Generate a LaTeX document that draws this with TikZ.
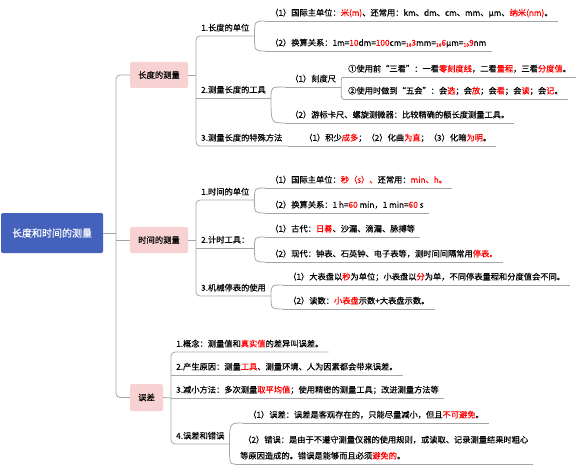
\documentclass[tikz,border=0pt]{standalone}
\usepackage{fontspec}
\newfontfamily\cjk{Noto Sans CJK SC}[FakeBold=0.3]
\usetikzlibrary{positioning}
\newcommand{\rd}[1]{\textcolor{red}{#1}}
\newcommand{\sm}[1]{\raisebox{-1pt}{\fontsize{5}{5}\selectfont #1}}

\begin{document}
\begin{tikzpicture}
    [x=1pt, y=-1pt,
    link/.style={draw=linegray, line width=0.8pt},
    ob/.style={rectangle, inner sep=1mm, minimum height=26pt, rounded corners=1.5pt, fill=topicpink, font=\cjk\fontsize{8.3}{10}\selectfont},
    leaf/.style={anchor=south west, inner xsep=5pt, inner ysep=3pt, text height=7pt, text depth=2pt, font=\cjk\fontsize{8.25}{10}\selectfont}]
    \definecolor{linegray}{RGB}{165,165,165}
    \definecolor{topicpink}{RGB}{248,210,210}
    \definecolor{rootblue}{RGB}{68,98,188}
    \useasboundingbox (0,0) rectangle (577,465);
    % main topics
    \node [ob, fill=rootblue, text=white, minimum width=102pt, minimum height=40pt, font=\cjk\fontsize{10}{12}\selectfont] (root) at (52,233) {长度和时间的测量};
    \node [ob, minimum width=58pt] (len) at (159,75) {长度的测量};
    \node [ob, minimum width=58pt] (time) at (159,240) {时间的测量};
    \node [ob, minimum width=33pt, minimum height=27pt] (err) at (146.5,397.5) {误差};
    \coordinate (trunk) at (116,233);
    % length
    \node [leaf] (lu) at (196,36) {1.长度的单位};
    \node [leaf] (lu1) at (265,21) {（1）国际主单位：\rd{米(m)}、还常用：km、dm、cm、mm、μm、\rd{纳米(nm)}。};
    \node [leaf] (lu2) at (265,51) {（2）换算关系：1m=\rd{10}dm=\rd{100}cm=\rd{\sm{10}3}mm=\rd{\sm{10}6}μm=\rd{\sm{10}9}nm};
    \node [leaf] (lt) at (196,98) {2.测量长度的工具};
    \node [leaf] (lt1) at (285,87) {（1）刻度尺};
    \node [leaf] (lt1a) at (343,77) {①使用前“三看”：一看\rd{零刻度线}，二看\rd{量程}，三看\rd{分度值}。};
    \node [leaf] (lt1b) at (343,99) {②使用时做到“五会”：会\rd{选}；会\rd{放}；会\rd{看}；会\rd{读}；会\rd{记}。};
    \node [leaf] (lt2) at (285,123) {（2）游标卡尺、螺旋测微器：比较精确的额长度测量工具。};
    \node [leaf] (ls) at (196,146) {3.测量长度的特殊方法};
    \node [leaf] (ls1) at (299,146) {（1）积少\rd{成多}；（2）化曲\rd{为直}；（3）化暗\rd{为明}。};
    % time
    \node [leaf] (tu) at (196,200) {1.时间的单位};
    \node [leaf] (tu1) at (265,188) {（1）国际主单位：\rd{秒（s）、}还常用：\rd{min、h。}};
    \node [leaf] (tu2) at (265,213) {（2）换算关系：1 h=\rd{60} min，1 min=\rd{60} s};
    \node [leaf] (tt) at (196,248) {2.计时工具：};
    \node [leaf] (tt1) at (265,237) {（1）古代：\rd{日晷}、沙漏、滴漏、脉搏等};
    \node [leaf] (tt2) at (265,262) {（2）现代：钟表、石英钟、电子表等，测时间间隔常用\rd{停表。}};
    \node [leaf] (tm) at (196,296) {3.机械停表的使用};
    \node [leaf] (tm1) at (283,285) {（1）大表盘以\rd{秒}为单位；小表盘以\rd{分}为单，不同停表量程和分度值会不同。};
    \node [leaf] (tm2) at (283,309) {（2）读数：\rd{小表盘}示数+大表盘示数。};
    % error
    \node [leaf] (e1) at (171,352) {1.概念：测量值和\rd{真实值}的差异叫误差。};
    \node [leaf] (e2) at (171,375) {2.产生原因：测量\rd{工具}、测量环境、人为因素都会带来误差。};
    \node [leaf] (e3) at (171,398) {3.减小方法：多次测量\rd{取平均值}；使用精密的测量工具；改进测量方法等};
    \node [leaf] (e4) at (171,444) {4.误差和错误};
    \node [leaf] (e41) at (243,423) {（1）误差：误差是客观存在的，只能尽量减小，但且\rd{不可避免}。};
    \node [leaf, align=left, text height=23pt, font=\cjk\fontsize{8.25}{16}\selectfont] (e42) at (235,464) {\hspace{3pt}（2）错误：是由于不遵守测量仪器的使用规则，或读取、记录测量结果时粗心\\等原因造成的。错误是能够而且必须\rd{避免的}。};
    % connectors
    \draw[link] (root.east) -- (trunk);
    \draw[link, rounded corners=4pt] (len.west) -| (trunk) |- (err.west);
    \draw[link] (time.west) -- (time.west -| trunk);
    \draw[link] (len.east) -- (len.east -| lu.south west);
    \draw[link] (time.east) -- (time.east -| tu.south west);
    \draw[link] (err.east) -- (e3.south west);
    \draw[link, rounded corners=4pt] (lu.south east) -- (lu.south west) -- (ls.south west) -- (ls.south east);
    \draw[link, rounded corners=4pt] (tu.south east) -- (tu.south west) -- (tm.south west) -- (tm.south east);
    \draw[link, rounded corners=4pt] (e1.south east) -- (e1.south west) -- (e4.south west) -- (e4.south east);
    \draw[link] (ls.south east) -- (ls1.south west);
    \foreach \n in {lt,lu1,lu2,lt1,lt1a,lt1b,lt2,ls1,tt,tu1,tu2,tt1,tt2,tm1,tm2,e2,e3,e41,e42}
        \draw[link] (\n.south west) -- (\n.south east);
    \foreach \p/\c in {lu/lu1,lu/lu2,lt/lt1,lt/lt2,lt1/lt1a,lt1/lt1b,tu/tu1,tu/tu2,tt/tt1,tt/tt2,tm/tm1,tm/tm2,e4/e41,e4/e42}
        \draw[link] (\p.south east) .. controls (\p.south east |- \c.south west) .. (\c.south west);
\end{tikzpicture}
\end{document}
